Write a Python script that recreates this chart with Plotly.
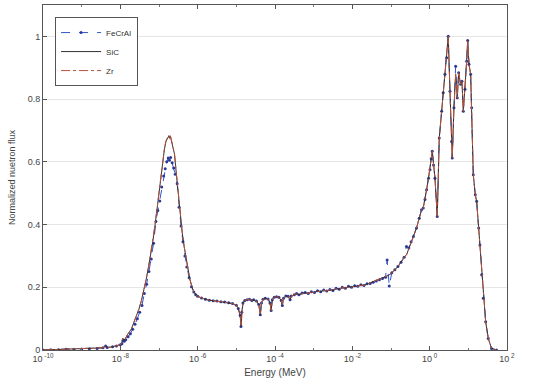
import plotly.graph_objects as go

# log10(Energy / MeV) and normalized flux
sic_log_e = [-10.0, -9.8, -9.6, -9.4, -9.2, -9.0, -8.8, -8.6, -8.45, -8.38, -8.34, -8.2, -8.1, -8.0,
             -7.96, -7.94, -7.91, -7.87, -7.82, -7.76, -7.71, -7.65, -7.58, -7.52, -7.46, -7.40,
             -7.34, -7.28, -7.22, -7.16, -7.10, -7.05, -7.00, -6.95, -6.90, -6.86, -6.82, -6.78,
             -6.75, -6.73, -6.71, -6.68, -6.64, -6.60, -6.55, -6.50, -6.45, -6.40, -6.35, -6.30,
             -6.25, -6.20, -6.15, -6.10, -6.05, -6.00, -5.90, -5.80, -5.70, -5.60, -5.50, -5.40,
             -5.30, -5.20, -5.10, -5.00, -4.95, -4.90, -4.88, -4.86, -4.83, -4.78, -4.72, -4.66,
             -4.60, -4.55, -4.48, -4.42, -4.38, -4.35, -4.31, -4.25, -4.18, -4.13, -4.10, -4.07,
             -4.02, -3.96, -3.90, -3.84, -3.81, -3.78, -3.72, -3.66, -3.61, -3.58, -3.50, -3.44,
             -3.38, -3.30, -3.22, -3.14, -3.06, -2.98, -2.90, -2.82, -2.74, -2.66, -2.58, -2.50,
             -2.42, -2.34, -2.26, -2.18, -2.10, -2.02, -1.94, -1.86, -1.78, -1.70, -1.62, -1.54,
             -1.46, -1.38, -1.30, -1.22, -1.14, -1.10, -1.06, -0.98, -0.90, -0.82, -0.74, -0.66,
             -0.60, -0.54, -0.48, -0.42, -0.34, -0.27, -0.21, -0.166, -0.12, -0.08, -0.03, 0.008,
             0.04, 0.067, 0.10, 0.137, 0.196, 0.248, 0.31, 0.35, 0.395, 0.439, 0.48, 0.525, 0.568,
             0.584, 0.628, 0.672, 0.714, 0.75, 0.80, 0.835, 0.87, 0.913, 0.957, 0.983, 1.017, 1.06,
             1.086, 1.128, 1.18, 1.215, 1.267, 1.30, 1.345, 1.386, 1.448, 1.515, 1.60, 1.73]

sic_flux = [0.000, 0.001, 0.001, 0.002, 0.002, 0.003, 0.004, 0.005, 0.007, 0.013, 0.008, 0.010, 0.013, 0.017,
            0.022, 0.038, 0.032, 0.036, 0.048, 0.060, 0.068, 0.088, 0.110, 0.130, 0.155, 0.185,
            0.220, 0.258, 0.300, 0.345, 0.400, 0.450, 0.505, 0.560, 0.605, 0.640, 0.665, 0.675,
            0.682, 0.675, 0.683, 0.668, 0.650, 0.625, 0.560, 0.490, 0.430, 0.375, 0.330, 0.290,
            0.255, 0.225, 0.200, 0.185, 0.176, 0.171, 0.166, 0.162, 0.159, 0.157, 0.156, 0.154,
            0.153, 0.151, 0.148, 0.143, 0.132, 0.110, 0.075, 0.120, 0.150, 0.158, 0.160, 0.162,
            0.158, 0.160, 0.156, 0.145, 0.112, 0.150, 0.162, 0.165, 0.163, 0.150, 0.126, 0.160,
            0.168, 0.170, 0.168, 0.158, 0.142, 0.165, 0.172, 0.171, 0.160, 0.172, 0.176, 0.180,
            0.176, 0.180, 0.183, 0.180, 0.185, 0.183, 0.188, 0.186, 0.190, 0.188, 0.192, 0.190,
            0.196, 0.194, 0.199, 0.197, 0.202, 0.200, 0.204, 0.203, 0.207, 0.206, 0.210, 0.212,
            0.216, 0.220, 0.224, 0.228, 0.232, 0.234, 0.238, 0.246, 0.256, 0.266, 0.280, 0.296,
            0.303, 0.325, 0.345, 0.362, 0.389, 0.420, 0.447, 0.453, 0.480, 0.511, 0.548, 0.575,
            0.610, 0.634, 0.590, 0.548, 0.426, 0.676, 0.761, 0.820, 0.879, 0.932, 1.000, 0.825, 0.665,
            0.612, 0.772, 0.879, 0.804, 0.884, 0.847, 0.857, 0.761, 0.831, 0.921, 0.987, 0.911, 0.879,
            0.772, 0.559, 0.495, 0.474, 0.389, 0.335, 0.240, 0.165, 0.090, 0.037, 0.005, 0.000]

zr_log_e = sic_log_e
zr_flux = [0.000, 0.001, 0.001, 0.002, 0.002, 0.003, 0.004, 0.005, 0.007, 0.013, 0.008, 0.010, 0.013, 0.017,
           0.022, 0.038, 0.032, 0.036, 0.048, 0.060, 0.068, 0.088, 0.110, 0.130, 0.155, 0.186,
           0.221, 0.259, 0.302, 0.347, 0.402, 0.452, 0.507, 0.562, 0.607, 0.642, 0.667, 0.678,
           0.685, 0.678, 0.686, 0.670, 0.652, 0.627, 0.562, 0.492, 0.431, 0.376, 0.331, 0.290,
           0.255, 0.225, 0.200, 0.185, 0.176, 0.171, 0.166, 0.162, 0.159, 0.157, 0.156, 0.154,
           0.153, 0.151, 0.148, 0.143, 0.132, 0.110, 0.075, 0.120, 0.150, 0.158, 0.160, 0.162,
           0.158, 0.160, 0.156, 0.145, 0.112, 0.150, 0.162, 0.165, 0.163, 0.150, 0.126, 0.160,
           0.168, 0.170, 0.168, 0.158, 0.142, 0.165, 0.172, 0.171, 0.160, 0.172, 0.176, 0.180,
           0.176, 0.180, 0.183, 0.180, 0.185, 0.183, 0.188, 0.186, 0.190, 0.188, 0.192, 0.190,
           0.196, 0.194, 0.199, 0.197, 0.202, 0.200, 0.204, 0.203, 0.207, 0.206, 0.210, 0.212,
           0.216, 0.220, 0.224, 0.228, 0.232, 0.234, 0.238, 0.246, 0.256, 0.266, 0.280, 0.296,
           0.303, 0.325, 0.345, 0.362, 0.389, 0.420, 0.447, 0.453, 0.480, 0.511, 0.548, 0.575,
           0.610, 0.634, 0.590, 0.548, 0.426, 0.676, 0.761, 0.820, 0.879, 0.932, 1.000, 0.825, 0.665,
           0.612, 0.772, 0.879, 0.804, 0.884, 0.847, 0.857, 0.761, 0.831, 0.921, 0.987, 0.911, 0.879,
           0.772, 0.559, 0.495, 0.474, 0.389, 0.335, 0.240, 0.165, 0.090, 0.037, 0.005, 0.000]

fecral_log_e = [-10.0, -9.8, -9.6, -9.4, -9.2, -9.0, -8.8, -8.6, -8.45, -8.38, -8.34, -8.2, -8.1, -8.0,
                -7.96, -7.93, -7.90, -7.86, -7.80, -7.74, -7.68, -7.62, -7.56, -7.50, -7.44, -7.38,
                -7.32, -7.26, -7.20, -7.14, -7.08, -7.03, -6.98, -6.93, -6.88, -6.84, -6.80, -6.76,
                -6.73, -6.70, -6.66, -6.62, -6.58, -6.53, -6.48, -6.43, -6.38, -6.33, -6.28, -6.22,
                -6.16, -6.10, -6.05, -6.00, -5.90, -5.80, -5.70, -5.60, -5.50, -5.40,
                -5.30, -5.20, -5.10, -5.00, -4.95, -4.90, -4.88, -4.86, -4.83, -4.78, -4.72, -4.66,
                -4.60, -4.55, -4.48, -4.42, -4.38, -4.35, -4.31, -4.25, -4.18, -4.13, -4.10, -4.07,
                -4.02, -3.96, -3.90, -3.84, -3.81, -3.78, -3.72, -3.66, -3.61, -3.58, -3.50, -3.44,
                -3.38, -3.30, -3.22, -3.14, -3.06, -2.98, -2.90, -2.82, -2.74, -2.66, -2.58, -2.50,
                -2.42, -2.34, -2.26, -2.18, -2.10, -2.02, -1.94, -1.86, -1.78, -1.70, -1.62, -1.54,
                -1.46, -1.38, -1.30, -1.22, -1.14, -1.10, -1.045, -0.98, -0.90, -0.82, -0.74, -0.66,
                -0.60, -0.54, -0.48, -0.42, -0.34, -0.27, -0.21, -0.166, -0.12, -0.08, -0.03, 0.008,
                0.04, 0.067, 0.10, 0.137, 0.196, 0.248, 0.31, 0.35, 0.395, 0.439, 0.48, 0.525, 0.568,
                0.584, 0.628, 0.672, 0.714, 0.75, 0.80, 0.835, 0.87, 0.913, 0.957, 0.983, 1.017, 1.06,
                1.086, 1.128, 1.18, 1.215, 1.267, 1.30, 1.345, 1.386, 1.448, 1.515, 1.60, 1.73]

fecral_flux = [0.000, 0.001, 0.001, 0.002, 0.002, 0.003, 0.004, 0.005, 0.007, 0.013, 0.008, 0.010, 0.013, 0.017,
               0.020, 0.030, 0.028, 0.033, 0.042, 0.052, 0.066, 0.082, 0.100, 0.120, 0.142, 0.180,
               0.210, 0.250, 0.290, 0.340, 0.410, 0.445, 0.475, 0.520, 0.555, 0.578, 0.600, 0.612,
               0.605, 0.614, 0.597, 0.580, 0.560, 0.530, 0.455, 0.395, 0.345, 0.300, 0.265, 0.230,
               0.202, 0.185, 0.176, 0.171, 0.166, 0.162, 0.159, 0.157, 0.156, 0.154,
               0.153, 0.151, 0.148, 0.143, 0.132, 0.110, 0.075, 0.120, 0.150, 0.158, 0.160, 0.162,
               0.158, 0.160, 0.156, 0.145, 0.112, 0.150, 0.162, 0.165, 0.163, 0.150, 0.126, 0.160,
               0.168, 0.170, 0.168, 0.158, 0.142, 0.165, 0.172, 0.171, 0.160, 0.172, 0.176, 0.180,
               0.176, 0.182, 0.183, 0.180, 0.186, 0.183, 0.189, 0.186, 0.191, 0.188, 0.193, 0.190,
               0.197, 0.194, 0.200, 0.197, 0.203, 0.200, 0.205, 0.203, 0.208, 0.206, 0.211, 0.212,
               0.216, 0.220, 0.224, 0.228, 0.232, 0.287, 0.204, 0.246, 0.256, 0.266, 0.280, 0.296,
               0.330, 0.325, 0.345, 0.362, 0.389, 0.420, 0.447, 0.453, 0.480, 0.511, 0.548, 0.575,
               0.610, 0.634, 0.590, 0.548, 0.426, 0.676, 0.761, 0.820, 0.879, 0.932, 1.000, 0.825, 0.665,
               0.612, 0.772, 0.905, 0.804, 0.884, 0.847, 0.857, 0.761, 0.831, 0.921, 0.987, 0.911, 0.879,
               0.772, 0.559, 0.495, 0.474, 0.389, 0.335, 0.240, 0.165, 0.090, 0.037, 0.005, 0.000]

x_tick_exponents = [-10, -8, -6, -4, -2, 0, 2]
y_tick_values = [0, 0.2, 0.4, 0.6, 0.8, 1]
y_tick_labels = ["0", "0.2", "0.4", "0.6", "0.8", "1"]

fig = go.Figure()
fig.add_trace(go.Scatter(
    x=[10 ** v for v in fecral_log_e], y=fecral_flux, name="FeCrAl", mode="lines+markers",
    line=dict(color="#3355cc", width=1, dash="dash"),
    marker=dict(symbol="circle", size=3, color="#2a3a9a"),
))
fig.add_trace(go.Scatter(
    x=[10 ** v for v in sic_log_e], y=sic_flux, name="SiC", mode="lines",
    line=dict(color="#333333", width=1),
))
fig.add_trace(go.Scatter(
    x=[10 ** v for v in zr_log_e], y=zr_flux, name="Zr", mode="lines",
    line=dict(color="#b8503a", width=1, dash="dashdot"),
))

font_family = "Liberation Sans, Arial, sans-serif"
fig.update_layout(
    width=550, height=386,
    margin=dict(l=43, r=43, t=5, b=36),
    paper_bgcolor="white", plot_bgcolor="white",
    font=dict(family=font_family, size=10, color="#444444"),
    showlegend=True,
    legend=dict(x=0.026, y=0.965, xanchor="left", yanchor="top",
                bgcolor="white", bordercolor="#555555", borderwidth=1,
                font=dict(size=8, color="#333333"), tracegroupgap=0,
                itemwidth=40),
    xaxis=dict(
        type="log", range=[-10, 2], automargin=False,
        tickvals=[10 ** e for e in x_tick_exponents],
        ticktext=[f"10<sup> {e}</sup>" for e in x_tick_exponents],
        ticks="inside", ticklen=4, tickcolor="#555555",
        minor=dict(ticks="inside", ticklen=2, tickcolor="#777777", showgrid=False),
        showline=True, linecolor="#555555", linewidth=1, mirror="allticks",
        showgrid=False, zeroline=False,
        title=dict(text="Energy (MeV)", font=dict(size=10), standoff=6),
        tickfont=dict(size=9),
    ),
    yaxis=dict(
        range=[0, 1.1], automargin=False,
        tickvals=y_tick_values, ticktext=y_tick_labels,
        ticks="inside", ticklen=4, tickcolor="#555555",
        showline=True, linecolor="#555555", linewidth=1, mirror=True,
        showgrid=True, gridcolor="#e6e6e6", gridwidth=1, zeroline=False,
        title=dict(text="Normalized nuetron flux", font=dict(size=9), standoff=10),
        tickfont=dict(size=9),
    ),
)

fig.write_html("out.html", config={"displayModeBar": False},
               post_script="document.body.style.margin='0px';document.body.style.padding='0px';")
